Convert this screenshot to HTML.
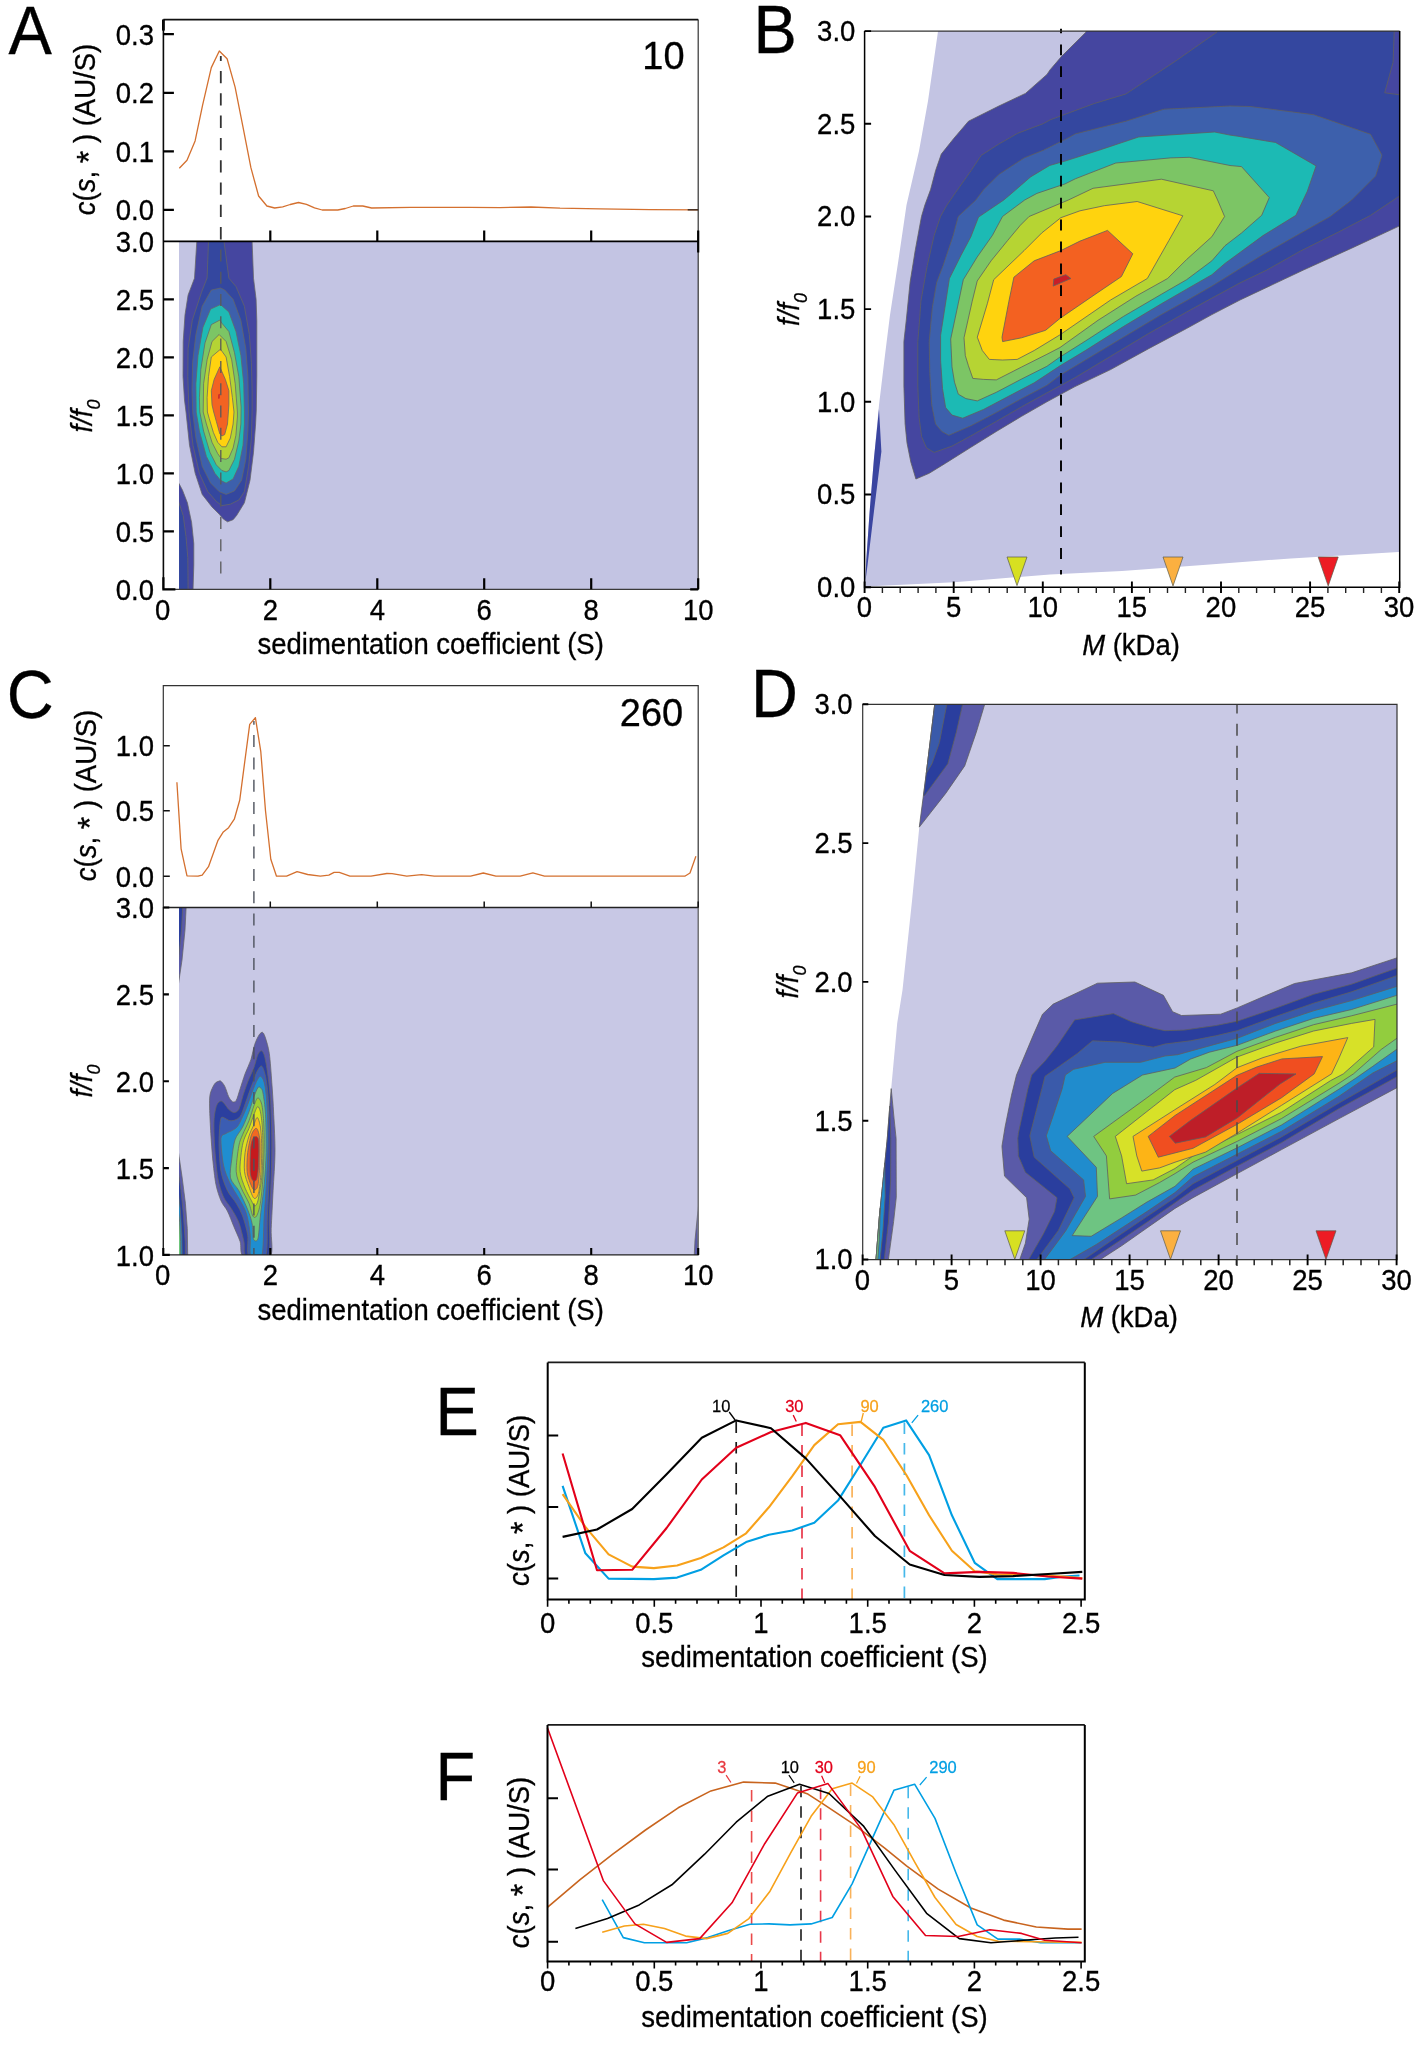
<!DOCTYPE html>
<html><head><meta charset="utf-8"><title>Figure</title>
<style>html,body{margin:0;padding:0;background:#fff}svg{display:block;will-change:transform}text{font-family:"Liberation Sans",sans-serif}</style>
</head><body>
<svg width="1422" height="2046" viewBox="0 0 1422 2046">
<defs>
<clipPath id="clipA"><rect x="179" y="241.4" width="518.6" height="347.9"/></clipPath>
<clipPath id="clipC"><rect x="179" y="907.5" width="518.6" height="347.4"/></clipPath>
<clipPath id="clipB"><rect x="864.6" y="31.1" width="535.1" height="556.1"/></clipPath>
<clipPath id="clipD"><rect x="862.7" y="704.3" width="534.3" height="555.3"/></clipPath>
</defs>
<rect width="1422" height="2046" fill="#fff"/>
<rect x="179" y="241.4" width="519.2" height="347.9" fill="#c3c4e3"/>
<g clip-path="url(#clipA)" stroke="#666666" stroke-width="0.75" stroke-linejoin="round">
<path d="M178 481.7 L182.5 490.2 L187.4 502.8 L191.6 522.5 L193.8 543.6 L193.8 564.7 L193 591 L178 591Z" fill="#4546a0"/>
<path d="M178 500 L183.2 515.5 L186 536.6 L187.8 557.7 L188.1 591 L178 591Z" fill="#34479f"/>
<path d="M196.8 236 L196.8 241.5 L194.5 278.2 L188.1 295 L185 314.8 L183.2 341.5 L183 376.6 L184.5 400 L186 412 L189.5 445.2 L195.2 473.3 L202.2 494.4 L212 507 L219.1 514.1 L223.3 519 L227.5 521.8 L233.1 519.7 L236.6 515.5 L244.4 502.8 L250 480.3 L253.5 452.2 L255.6 424 L256.3 410 L256.8 376.6 L256.8 320.4 L256.1 299.3 L253.5 278.2 L252.1 241.5 L252.1 236Z" fill="#4546a0"/>
<path d="M208.5 236 L208.5 241.5 L207.1 278 L201.5 292.3 L192.3 320.4 L188.1 348.5 L187.8 376.6 L189 412 L193 445.2 L199.4 473.3 L207.8 491.6 L216.3 501.4 L221.9 505.6 L230.3 504.2 L238.8 500 L244.4 491.6 L248.6 466.3 L251.4 438.1 L252.1 410 L252.1 390.7 L251.4 362.6 L249.3 334.5 L244.4 306.3 L236 286.6 L228.9 278.2 L224 241.5 L224 236Z" fill="#34479f"/>
<path d="M220.5 288 L211.3 290.1 L202.2 306.3 L195.9 334.5 L192.6 362.6 L192 390.7 L192.8 413 L195.9 438.1 L202.2 466.3 L210.6 483.1 L219.1 491.6 L226.1 494.4 L234.5 490.9 L241.6 480.3 L245.8 459.2 L247.9 431.1 L248.5 412 L247.9 376.6 L245.8 348.5 L240.9 320.4 L233.1 299.3 L224.7 290Z" fill="#3d60ac"/>
<path d="M220.5 304.6 L210.6 309.1 L202.9 327.4 L198 355.6 L195.9 383.7 L196.2 412 L199.4 431.1 L206.4 456.4 L214.9 473.3 L220.5 480.3 L226.1 483.1 L233.1 478.9 L238.8 466.3 L243 445.2 L244.4 424 L244.4 412 L243.7 383.7 L240.9 355.6 L236 331.6 L228.9 312Z" fill="#1fbab4"/>
<path d="M219.8 320.1 L211.3 324.6 L205 342.9 L200.8 369.6 L199.4 397.7 L199.8 412 L203.6 431.1 L209.9 452.2 L216.3 464.9 L221.9 470.5 L226.1 471.9 L228.9 470.5 L234.5 459.2 L238.8 440.9 L240.9 424 L241.1 407 L238.8 376.6 L234.5 352.7 L228.9 331.6 L221.9 323.2Z" fill="#7cc565"/>
<path d="M219.1 334.5 L212 341.5 L207.1 359.8 L203.6 383.7 L203.2 412 L206.4 424 L212 442.3 L217.7 453.6 L221.2 458.5 L226.1 459.2 L228.9 457.8 L233.1 448 L235.9 435.3 L237.4 417 L237.4 412 L235.2 383.7 L231.7 359.8 L226.1 341.5Z" fill="#b5d334"/>
<path d="M220.5 349.2 L211.3 357 L208.5 376.6 L207.1 397.7 L207.4 412 L209.2 418.4 L213.4 432.5 L217.7 442.3 L221.9 446.8 L226.1 446.8 L230.3 438.1 L233.1 424 L234 412 L232.4 397.7 L229.6 376.6 L226.1 357Z" fill="#ffd20f"/>
<path d="M219.8 366.8 L214.1 379.5 L211.3 390.7 L212 404.8 L213.7 412 L216.3 421.3 L219.8 433.9 L221.9 436 L224.7 434.6 L227.5 424 L228.4 412 L228.9 404.8 L228.9 390.7 L225.4 379.5Z" fill="#f26322"/>
<path d="M218.3 394.5L219.8 393.8L219.6 398.5L218.2 398.8Z" fill="#c4202a" stroke="none"/>
</g>
<path d="M179.3 168.2 L187 160.2 L195.1 140.9 L202.6 105.1 L211.3 67.6 L219.3 51 L227.1 58.8 L235.1 87.1 L243.1 127.7 L250.9 167.7 L258.6 196 L266.9 206 L274.7 208 L282.7 206.8 L290.2 204.5 L298.5 202.5 L306.5 204.3 L314.5 207.8 L322.2 210 L337.8 210 L345.3 208.5 L353.3 206 L362.8 206 L371.6 208 L410.4 207.3 L470 207.4 L500 207.6 L531 207 L560 208.2 L600 208.8 L650 209.6 L698 209.8" fill="none" stroke="#d4702f" stroke-width="1.3" stroke-linejoin="round"/>
<path d="M220.8 56V241.4" fill="none" stroke="#333" stroke-width="1.8" stroke-dasharray="12.3 10" stroke-dashoffset="7.3"/>
<path d="M220.8 241.4V581" fill="none" stroke="#5a5a5a" stroke-width="1.3" stroke-dasharray="12 10.3" stroke-dashoffset="14.3"/>
<path d="M698.2 19.6V589.3" fill="none" stroke="#333" stroke-width="1.2"/>
<path d="M163.4 19.6H698.2" fill="none" stroke="#111" stroke-width="1.6"/>
<path d="M163.4 19.6v11" fill="none" stroke="#000" stroke-width="2.8"/>
<path d="M163.4 19.6V589.3" fill="none" stroke="#0a0a0a" stroke-width="1.6"/>
<path d="M163.4 589.3H698.7" fill="none" stroke="#3a3a3a" stroke-width="1.3"/>
<path d="M163.4 241.4H698.7" fill="none" stroke="#000" stroke-width="1.8"/>
<path d="M163.4 34.2h10.5M163.4 92.8h10.5M163.4 151.3h10.5M163.4 209.8h10.5M163.4 531.3h10.5M163.4 473.3h10.5M163.4 415.3h10.5M163.4 357.3h10.5M163.4 299.3h10.5M270.3 241.4v-11M270.3 589.3v-11M377.3 241.4v-11M377.3 589.3v-11M484.2 241.4v-11M484.2 589.3v-11M591.2 241.4v-11M591.2 589.3v-11M698.2 241.4v-11M698.2 589.3v-11M698.2 241.4v11M163.4 589.3v-12h0v12h12M698.2 589.3h-8" fill="none" stroke="#000" stroke-width="2.2" stroke-linejoin="miter"/>
<path d="M698.2 209.8h-10.5" fill="none" stroke="#3a2a20" stroke-width="1.4"/>
<g font-size="27.5" text-anchor="end">
<text transform="translate(154 44.8) scale(1 1.045)" stroke="#000" stroke-width="0.3">0.3</text>
<text transform="translate(154 103.4) scale(1 1.045)" stroke="#000" stroke-width="0.3">0.2</text>
<text transform="translate(154 161.9) scale(1 1.045)" stroke="#000" stroke-width="0.3">0.1</text>
<text transform="translate(154 220.4) scale(1 1.045)" stroke="#000" stroke-width="0.3">0.0</text>
<text transform="translate(154 599.9) scale(1 1.045)" stroke="#000" stroke-width="0.3">0.0</text>
<text transform="translate(154 541.9) scale(1 1.045)" stroke="#000" stroke-width="0.3">0.5</text>
<text transform="translate(154 483.9) scale(1 1.045)" stroke="#000" stroke-width="0.3">1.0</text>
<text transform="translate(154 425.9) scale(1 1.045)" stroke="#000" stroke-width="0.3">1.5</text>
<text transform="translate(154 367.9) scale(1 1.045)" stroke="#000" stroke-width="0.3">2.0</text>
<text transform="translate(154 309.9) scale(1 1.045)" stroke="#000" stroke-width="0.3">2.5</text>
<text transform="translate(154 251.9) scale(1 1.045)" stroke="#000" stroke-width="0.3">3.0</text>
</g>
<g font-size="27.5" text-anchor="middle">
<text transform="translate(162.7 619.8) scale(1 1.045)" stroke="#000" stroke-width="0.3">0</text>
<text transform="translate(270.3 619.8) scale(1 1.045)" stroke="#000" stroke-width="0.3">2</text>
<text transform="translate(377.3 619.8) scale(1 1.045)" stroke="#000" stroke-width="0.3">4</text>
<text transform="translate(484.2 619.8) scale(1 1.045)" stroke="#000" stroke-width="0.3">6</text>
<text transform="translate(591.2 619.8) scale(1 1.045)" stroke="#000" stroke-width="0.3">8</text>
<text transform="translate(698.2 619.8) scale(1 1.045)" stroke="#000" stroke-width="0.3">10</text>
<text transform="translate(430.7 654.3) scale(1 1.045)" stroke="#000" stroke-width="0.3">sedimentation coefficient (S)</text>
</g>
<text transform="translate(663.5 69) scale(1 1.045)" font-size="38" text-anchor="middle" stroke="#000" stroke-width="0.3">10</text>
<text transform="translate(95.4 129.5) rotate(-90) scale(1 1.045)" font-size="27.5" text-anchor="middle" stroke="#000" stroke-width="0.3"><tspan font-style="italic">c</tspan>(<tspan font-style="italic">s</tspan>, <tspan font-size="32" dy="4.5">*</tspan><tspan dy="-4.5"> ) (AU/S)</tspan></text>
<text transform="translate(91.6 416) rotate(-90) scale(1 1.045)" font-size="27.5" text-anchor="middle" font-style="italic" stroke="#000" stroke-width="0.3">f/f<tspan font-size="18" dy="8.5">0</tspan></text>
<text transform="translate(8.6 53.8) scale(1 1.045)" font-size="65" stroke="#000" stroke-width="0.3">A</text>
<g clip-path="url(#clipB)">
<path d="M938.2 30 L934.4 56.6 L928 101 L919 151 L906.5 205 L898.3 261 L890 315 L885 355 L879 405 L874 458 L869.6 512 L866.3 560 L865.3 586.5 L865.5 586.6 L954.1 582.3 L1050 574.5 L1122 571.1 L1206.4 564.8 L1290.8 558.4 L1398.4 552.1 L1400 552 L1400 30Z" fill="#c3c4e3"/>
<g stroke="#606060" stroke-width="0.8" stroke-linejoin="round">
<path d="M879 409 L881.4 451.5 L874 511 L867.7 563.7 L865.1 584 L866.3 560 L869.6 512 L874 458Z" fill="#3a45a0" stroke="none"/>
<path d="M1086.1 27.5 L1086.1 32 L1061.4 56.6 L1050 69.9 L1047 74.4 L1025.5 93.4 L998.9 106 L968.5 121.2 L953.4 138.9 L941.3 154.1 L935.6 170.6 L930.6 189.6 L924.9 205 L921.5 216.5 L915.2 250.6 L910.1 282.3 L906.3 320 L903.9 341.6 L903.9 385.9 L905.1 423.9 L907 442.9 L910.8 461.9 L915.9 479 L929.2 473.3 L945.6 463.2 L970.9 447.3 L996.3 431.5 L1021.6 416.3 L1046.9 401.8 L1075 386.6 L1110.6 369.6 L1148.6 348.7 L1186.6 328.5 L1211.9 314.6 L1240 300 L1303.5 270 L1351.6 248.2 L1399.1 226.1 L1405 223 L1405 25Z" fill="#4546a0"/>
<path d="M1217.1 27.5 L1217.1 32 L1176.6 60.4 L1125.9 94 L1094.3 103.5 L1050 119.9 L1043.2 123.7 L1017.9 133.2 L998.9 144 L981.2 155.4 L971.1 170.6 L955.9 192.1 L947 205 L940.5 216.5 L934.2 235.4 L927.2 265.8 L920.9 301.3 L919.6 320 L917.8 341.6 L917.8 385.9 L919.1 417.6 L921.6 436.6 L926.6 448 L934.2 452.4 L952 446.1 L970.9 435.9 L996.3 421.4 L1021.6 406.8 L1046.9 392.9 L1075 377.7 L1110.6 356.3 L1148.6 333.5 L1186.6 312 L1211.9 298.1 L1240 282.9 L1266.8 270 L1300.9 250.8 L1338.9 231.8 L1370.6 215.3 L1399.1 196.3 L1405 193 L1405 95.5 L1384.7 92.8 L1393.1 62.2 L1394.2 31.6 L1394.2 22.1Z" fill="#34479f"/>
<path d="M1230 106 L1250.3 106.5 L1313.6 114.7 L1370.6 134.3 L1382 155.2 L1375.6 176.1 L1351.6 200.1 L1330.1 216.6 L1300.9 233 L1263 254.6 L1237.7 270 L1211.9 286.1 L1186.6 300.6 L1161.3 314.6 L1123.3 337.3 L1085.3 360.1 L1060 375.3 L1046.9 385.3 L1021.6 398.6 L996.3 412.5 L970.9 425.8 L948.8 435.3 L941.8 431.5 L935.5 423.9 L931.7 404.9 L929.8 373.3 L929.2 341.6 L932.3 307.6 L936.7 282.3 L943 265.8 L953.2 235.4 L958.2 216.5 L975.9 200 L983.7 189.6 L998.9 174.4 L1024.2 157.9 L1043.2 150.3 L1065 139.6 L1075.3 133.9 L1125.9 121.2 L1163.9 109.2Z" fill="#3d60ac"/>
<path d="M1214.6 132 L1230 135.1 L1237.7 136.2 L1275.6 142.5 L1316.1 165.9 L1307.3 191.3 L1295.9 215.3 L1263 235.6 L1225 263.4 L1211.9 274.7 L1186.6 289.2 L1161.3 303.8 L1123.3 326.6 L1085.3 350.6 L1060 365.8 L1034.2 382.8 L1008.9 396.1 L983.6 409.4 L962.7 418.2 L952 415.1 L945.6 407.5 L942.5 388.5 L940.6 360.6 L940.6 335.3 L944.9 307.6 L949.4 278.5 L960.8 255.7 L970.9 236.7 L978.5 217.1 L1003.8 200 L1011.6 193.4 L1030.6 176.9 L1049.6 165.5 L1065 161.1 L1100.6 149.7 L1138.6 137Z" fill="#1cbab4"/>
<path d="M1189.2 157.3 L1230 165.5 L1241.5 166.6 L1269.3 197.6 L1261.7 215.3 L1241.5 233 L1225 245.7 L1211.9 260.8 L1186.6 279.7 L1161.3 294.3 L1123.3 316.5 L1085.3 341.1 L1060 357 L1046.9 366.3 L1021.6 379 L996.3 392.3 L977.3 400.9 L965.9 398.6 L958.3 394.2 L954.5 382.2 L952 367 L950.7 339.1 L958.2 303.8 L963.3 279.7 L977.2 257 L992.4 235.4 L1002.5 216.5 L1024.7 200 L1036.9 193.4 L1065 183.9 L1075.3 178.8 L1115.8 163 L1170.3 157.9Z" fill="#7cc565"/>
<path d="M1161.4 179.2 L1213.3 190.8 L1217.6 200 L1224.6 216.5 L1211.9 236.7 L1186.6 259.5 L1167.6 278.5 L1135.9 296.2 L1098 320.3 L1060 347.5 L1046.9 354.3 L1021.6 367 L996.3 379.9 L983.6 379.4 L972.8 378.4 L968.4 365.7 L965.3 355.6 L964 337.8 L972.2 301.3 L977.2 281 L991.1 260.8 L1007.6 240.5 L1020.3 225.3 L1029.1 216.5 L1068.4 200 L1093 188.3Z" fill="#b6d433"/>
<path d="M1137.2 201.5 L1182.8 215.8 L1168.9 240.5 L1147.3 278.5 L1110.6 300 L1060 334.8 L1034.2 350.5 L1017.2 359.4 L1002.6 360 L989.3 359.4 L982.3 350.5 L977.3 337.2 L987.3 303.8 L993.7 279.7 L1024.1 250.6 L1041.8 232.9 L1060.8 217.7 L1080 210.8 L1104.3 205.7Z" fill="#ffd30e"/>
<path d="M1107.5 230.4 L1132.8 253.8 L1121.4 276.6 L1098 292.4 L1060 318.4 L1045.6 330.3 L1021.6 337.8 L1002.6 341.6 L1002 337.2 L1008.9 301.3 L1013.9 277.2 L1034.2 260.8 L1060.8 250.6 L1080 241.1Z" fill="#f36121"/>
<path d="M1053.8 279.1 L1065.8 274.7 L1070.9 278.5 L1053.2 286.1Z" fill="#c81e28"/>
</g></g>
<path d="M1061 28.8V574.6" fill="none" stroke="#000" stroke-width="1.9" stroke-dasharray="10.8 11.1" stroke-dashoffset="6.3"/>
<path d="M1007 557H1027L1017 585.6Z" fill="#d7e021" stroke="#5a5a4a" stroke-width="0.7"/>
<path d="M1163 557H1183L1173 585.9Z" fill="#fbb040" stroke="#5a5a4a" stroke-width="0.7"/>
<path d="M1318.2 557H1338.2L1328.2 585.9Z" fill="#ed1c24" stroke="#5a5a4a" stroke-width="0.7"/>
<path d="M864.6 31.1H1399.7" fill="none" stroke="#333" stroke-width="1.1"/>
<path d="M864.6 31.1V587.2H1399.7V31.1" fill="none" stroke="#000" stroke-width="1.5"/>
<path d="M864.6 31.1h6.5M864.6 123.8h6.5M864.6 216.5h6.5M864.6 309.1h6.5M864.6 401.8h6.5M864.6 494.5h6.5M864.6 587.2h6.5M864.6 581.6v11.4M953.7 581.6v11.4M1042.8 581.6v11.4M1131.9 581.6v11.4M1221 581.6v11.4M1310.1 581.6v11.4M1399.2 581.6v11.4" fill="none" stroke="#000" stroke-width="1.9"/>
<path d="M882.4 587.2v5.8M900.2 587.2v5.8M918.1 587.2v5.8M935.9 587.2v5.8M971.5 587.2v5.8M989.3 587.2v5.8M1007.2 587.2v5.8M1025 587.2v5.8M1060.6 587.2v5.8M1078.4 587.2v5.8M1096.3 587.2v5.8M1114.1 587.2v5.8M1149.7 587.2v5.8M1167.5 587.2v5.8M1185.4 587.2v5.8M1203.2 587.2v5.8M1238.8 587.2v5.8M1256.6 587.2v5.8M1274.5 587.2v5.8M1292.3 587.2v5.8M1327.9 587.2v5.8M1345.7 587.2v5.8M1363.6 587.2v5.8M1381.4 587.2v5.8" fill="none" stroke="#222" stroke-width="1.4"/>
<g font-size="27.5" text-anchor="end">
<text transform="translate(855.3 41) scale(1 1.045)" stroke="#000" stroke-width="0.3">3.0</text>
<text transform="translate(855.3 133.7) scale(1 1.045)" stroke="#000" stroke-width="0.3">2.5</text>
<text transform="translate(855.3 226.4) scale(1 1.045)" stroke="#000" stroke-width="0.3">2.0</text>
<text transform="translate(855.3 319) scale(1 1.045)" stroke="#000" stroke-width="0.3">1.5</text>
<text transform="translate(855.3 411.7) scale(1 1.045)" stroke="#000" stroke-width="0.3">1.0</text>
<text transform="translate(855.3 504.4) scale(1 1.045)" stroke="#000" stroke-width="0.3">0.5</text>
<text transform="translate(855.3 597.1) scale(1 1.045)" stroke="#000" stroke-width="0.3">0.0</text>
</g>
<g font-size="27.5" text-anchor="middle">
<text transform="translate(864.5 616.9) scale(1 1.045)" stroke="#000" stroke-width="0.3">0</text>
<text transform="translate(953.6 616.9) scale(1 1.045)" stroke="#000" stroke-width="0.3">5</text>
<text transform="translate(1042.7 616.9) scale(1 1.045)" stroke="#000" stroke-width="0.3">10</text>
<text transform="translate(1131.8 616.9) scale(1 1.045)" stroke="#000" stroke-width="0.3">15</text>
<text transform="translate(1220.9 616.9) scale(1 1.045)" stroke="#000" stroke-width="0.3">20</text>
<text transform="translate(1310 616.9) scale(1 1.045)" stroke="#000" stroke-width="0.3">25</text>
<text transform="translate(1399.1 616.9) scale(1 1.045)" stroke="#000" stroke-width="0.3">30</text>
<text transform="translate(1131 654.5) scale(1 1.045)" stroke="#000" stroke-width="0.3"><tspan font-style="italic">M</tspan> (kDa)</text>
</g>
<text transform="translate(798.5 309.5) rotate(-90) scale(1 1.045)" font-size="27.5" text-anchor="middle" font-style="italic" stroke="#000" stroke-width="0.3">f/f<tspan font-size="18" dy="8.5">0</tspan></text>
<text transform="translate(753.6 53.4) scale(1 1.045)" font-size="65" stroke="#000" stroke-width="0.3">B</text>
<rect x="179" y="907.5" width="519.2" height="347.4000000000001" fill="#c8c8e5"/>
<g clip-path="url(#clipC)" stroke="#666666" stroke-width="0.75" stroke-linejoin="round">
<path d="M178 900 L186.5 900 L185 930 L182 960 L178 987Z" fill="#5a5aa9"/>
<path d="M178 900 L183 900 L181.5 930 L178 965Z" fill="#2b3f9f"/>
<path d="M177.8 1148 L182.2 1177.9 L185.4 1203.3 L187.3 1228.7 L187.7 1256.7 L177.8 1256.7Z" fill="#5a5aa9"/>
<path d="M177.8 1167.7 L181 1190.6 L183.5 1216 L185.2 1241.5 L185.4 1256.7 L177.8 1256.7Z" fill="#2b3f9f"/>
<path d="M177.8 1188.1 L180.3 1209.7 L181.9 1235.1 L182.2 1256.7 L177.8 1256.7Z" fill="#1f8ed0"/>
<path d="M177.8 1203.3 L179.7 1222.4 L180.6 1241.5 L180.7 1256.7 L177.8 1256.7Z" fill="#6dc57b"/>
<path d="M700 1193 L697.5 1215 L695 1240 L694 1260 L700 1260Z" fill="#5a5aa9"/>
<path d="M700 1215 L698 1235 L697 1260 L700 1260Z" fill="#2b3f9f"/>
<path d="M219.1 1081.1C218.1 1081.5 216 1081.9 214.6 1083.9C213.3 1085.8 211 1090.4 210.2 1094C209.4 1097.7 209.5 1102.1 209.6 1108C209.7 1113.9 210.4 1125.8 210.8 1133.4C211.3 1141.1 212 1151.2 212.7 1158.9C213.5 1166.5 214.7 1178 215.9 1184.3C217.2 1190.6 219.3 1196.8 221 1200.8C222.7 1204.8 225.4 1207.1 227.4 1211C229.3 1214.8 231.8 1221.6 233.7 1226.2C235.6 1230.8 238.5 1236.9 240.1 1241.5C241.6 1246 239.4 1254.4 243.9 1256.7C248.4 1259 265.8 1260.9 269.9 1256.7C274 1252.5 270.7 1238.7 271.2 1228.7C271.7 1218.8 272.5 1202.1 273.1 1190.6C273.7 1179.2 274.9 1163.9 275 1152.5C275.1 1141.1 274.2 1124.9 273.7 1114.4C273.3 1103.9 272.5 1091.8 271.8 1082.6C271.2 1073.5 270.2 1060 269.3 1053.4C268.3 1046.7 266.5 1041.3 265.5 1038.1C264.5 1035 263.6 1032.9 262.7 1032.4C261.7 1031.9 260.3 1033.1 259.1 1034.9C257.9 1036.8 255.9 1040.8 254.7 1044.5C253.4 1048.2 252.3 1055.3 250.9 1059.7C249.4 1064.1 246.8 1069.3 245.1 1073.7C243.5 1078.1 241.4 1085 240.1 1089C238.7 1093 237.4 1098.5 236.2 1100.4C235.1 1102.3 233.6 1102.2 232.4 1101.7C231.3 1101.1 229.8 1098.9 228.6 1096.6C227.5 1094.3 226 1088.7 224.8 1086.4C223.7 1084.1 221.9 1082.1 221 1081.3C220.1 1080.5 220 1080.7 219.1 1081.1Z" fill="#5a5aa9"/>
<path d="M221 1101C219.8 1101.2 217.6 1102.5 216.6 1105.5C215.5 1108.4 214.3 1114.6 214 1120.7C213.7 1126.8 214.1 1137.6 214.6 1146.1C215.2 1154.7 216.5 1170.3 217.8 1177.9C219.2 1185.5 221.5 1192.4 223.5 1197C225.5 1201.6 228.9 1204.6 231.2 1208.4C233.5 1212.2 236.9 1217.4 238.8 1222.4C240.7 1227.3 242.7 1236.3 243.9 1241.5C245 1246.6 242.8 1254.4 246.4 1256.7C250 1259 264.6 1262.8 268 1256.7C271.4 1250.6 268.8 1227.9 269.3 1216C269.8 1204.2 270.8 1189.4 271.2 1177.9C271.6 1166.5 271.9 1151.2 271.8 1139.8C271.7 1128.4 271.1 1111.2 270.6 1101.7C270 1092.1 268.9 1082.9 268 1076.2C267.2 1069.6 265.8 1061 264.8 1057.2C263.9 1053.4 262.7 1051.2 261.7 1050.8C260.6 1050.5 259 1052.2 257.9 1054.6C256.7 1057.1 255.4 1063.7 254 1067.4C252.7 1071 250.5 1075 249 1078.8C247.4 1082.6 245.4 1088.2 243.9 1092.8C242.3 1097.3 240.3 1106.3 238.8 1109.3C237.3 1112.2 235.2 1112.5 233.7 1112.5C232.2 1112.5 230 1110.5 228.6 1109.3C227.3 1108.1 226 1105.4 224.8 1104.2C223.7 1103 222.2 1100.8 221 1101Z" fill="#2b3f9f"/>
<path d="M221 1118.2C220.4 1119.6 220 1122.9 219.7 1127.1C219.4 1131.3 218.9 1139.5 219.1 1146.1C219.3 1152.8 219.8 1164.9 221 1171.6C222.2 1178.2 225.1 1185.9 227.4 1190.6C229.6 1195.4 234 1199.5 236.2 1203.3C238.5 1207.1 240.9 1211.3 242.6 1216C244.3 1220.8 246.7 1229 247.7 1235.1C248.6 1241.2 246.3 1253.5 249 1256.7C251.6 1259.9 262.7 1262.8 265.5 1256.7C268.2 1250.6 266.8 1228.8 267.4 1216C268 1203.3 269 1184.9 269.3 1171.6C269.6 1158.2 269.7 1138.5 269.5 1127.1C269.4 1115.6 268.6 1102.9 268 1095.3C267.4 1087.7 266.4 1080.6 265.5 1076.2C264.5 1071.9 262.9 1066.8 261.7 1066.1C260.4 1065.3 258.6 1068.7 257.2 1071.2C255.9 1073.6 254.2 1078.8 252.8 1082.6C251.3 1086.4 249.4 1091.8 247.7 1096.6C246 1101.3 243 1110.9 241.3 1114.4C239.6 1117.8 238 1118.5 236.2 1119.5C234.5 1120.4 231.8 1121 229.9 1120.7C228 1120.4 224.9 1117.9 223.5 1117.5C222.2 1117.2 221.6 1116.8 221 1118.2Z" fill="#3b5db3"/>
<path d="M233.7 1129.6C231.8 1131 228 1132.1 226.1 1133.4C224.2 1134.8 221.4 1133.8 221 1138.5C220.6 1143.3 222.2 1158.5 223.5 1165.2C224.9 1171.9 227.6 1178 229.9 1183C232.2 1188 236.3 1193.7 238.8 1198.2C241.3 1202.8 244.7 1208 246.4 1213.5C248.1 1219 249.6 1228.6 250.2 1235.1C250.9 1241.6 249.1 1253.5 250.9 1256.7C252.6 1259.9 259.7 1262.8 261.7 1256.7C263.7 1250.6 263.4 1227.9 264.2 1216C265 1204.2 266.2 1189.4 266.7 1177.9C267.3 1166.5 268 1151.2 268 1139.8C268 1128.4 267.3 1110.2 266.7 1101.7C266.2 1093.1 265.2 1086.4 264.2 1082.6C263.3 1078.8 261.5 1076.4 260.4 1076.2C259.3 1076.1 257.9 1078.7 256.6 1081.3C255.2 1084 253 1090 251.5 1094C250 1098 248.3 1103.4 246.4 1108C244.5 1112.6 240.7 1121.3 238.8 1124.5C236.9 1127.8 235.6 1128.3 233.7 1129.6Z" fill="#1f8ed0"/>
<path d="M257.9 1087.7C256.9 1089 255.4 1093 254 1096.6C252.7 1100.2 250.7 1107.3 249 1111.8C247.2 1116.4 244.7 1122.9 242.6 1127.1C240.5 1131.3 236.6 1135 235 1139.8C233.4 1144.6 232.5 1153.1 231.8 1158.9C231.1 1164.6 229.5 1173.1 230.5 1177.9C231.6 1182.7 236.2 1185.9 238.8 1190.6C241.4 1195.4 245.7 1204.7 247.7 1209.7C249.7 1214.6 251.3 1219.3 252.1 1223.7C253 1228 252.5 1236.6 253.4 1238.9C254.3 1241.2 256.8 1242.3 257.9 1238.9C258.9 1235.5 259.4 1224.2 260.4 1216C261.3 1207.8 263.3 1193.8 264.2 1184.3C265.1 1174.7 265.9 1163 266.1 1152.5C266.3 1142 266 1123.3 265.5 1114.4C265 1105.4 263.7 1096.8 262.9 1092.8C262.2 1088.8 261.2 1088.4 260.4 1087.7C259.6 1086.9 258.8 1086.4 257.9 1087.7Z" fill="#6dc57b"/>
<path d="M257.9 1097.9C256.7 1098 255.4 1102 254 1105.5C252.7 1108.9 250.7 1116.3 249 1120.7C247.2 1125.1 244.1 1130.9 242.6 1134.7C241.1 1138.5 239.7 1140.6 238.8 1146.1C237.8 1151.7 235.9 1165.3 236.2 1171.6C236.6 1177.8 239.4 1183.3 241.3 1188.1C243.2 1192.8 247.2 1199.1 249 1203.3C250.7 1207.5 251.6 1214.1 252.8 1216C253.9 1217.9 255.4 1217.9 256.6 1216C257.7 1214.1 259.4 1209 260.4 1203.3C261.3 1197.6 262.4 1186.5 262.9 1177.9C263.5 1169.3 264.1 1154.7 264.2 1146.1C264.3 1137.6 264 1127 263.6 1120.7C263.2 1114.4 262.5 1107.6 261.7 1104.2C260.8 1100.8 259 1097.7 257.9 1097.9Z" fill="#9dce32"/>
<path d="M257.6 1106.7C256.6 1107.1 255.3 1111.1 254 1114.4C252.7 1117.6 250.5 1124.5 249 1128.4C247.4 1132.2 245 1136.2 243.9 1139.8C242.7 1143.4 241.9 1147.7 241.3 1152.5C240.8 1157.3 239.5 1166.2 240.1 1171.6C240.6 1176.9 243.4 1183.7 245.1 1188.1C246.9 1192.5 250.1 1198.1 251.5 1200.8C252.9 1203.5 253.7 1205.9 254.7 1205.9C255.6 1205.9 256.8 1205 257.9 1200.8C258.9 1196.6 260.9 1185.2 261.7 1177.9C262.4 1170.7 262.8 1160.1 262.9 1152.5C263 1144.9 262.7 1133.2 262.3 1127.1C261.9 1121 261.1 1114.9 260.4 1111.8C259.7 1108.8 258.6 1106.4 257.6 1106.7Z" fill="#dbe11f"/>
<path d="M257.2 1117.5C256.2 1117.4 254.6 1123 253.4 1125.8C252.2 1128.6 250.2 1132 249 1136C247.7 1140 245.8 1147.2 245.1 1152.5C244.5 1157.8 243.9 1166.4 244.5 1171.6C245.1 1176.7 247.5 1182.8 249 1186.8C250.4 1190.8 252.6 1197.3 254 1198.2C255.5 1199.2 257.4 1197.2 258.5 1193.2C259.5 1189.2 260.6 1178.6 261 1171.6C261.5 1164.5 261.8 1152.8 261.7 1146.1C261.6 1139.5 261.1 1131.4 260.4 1127.1C259.7 1122.8 258.3 1117.7 257.2 1117.5Z" fill="#ffb61b"/>
<path d="M256.6 1128.4C255.3 1127.6 252.8 1131.1 251.5 1134.7C250.2 1138.3 248.4 1147 247.7 1152.5C247 1158 246.7 1167 247.1 1171.6C247.4 1176.1 249.2 1180.2 250.2 1183C251.3 1185.8 252.9 1189.6 254 1190C255.2 1190.4 257 1189.3 257.9 1185.5C258.7 1181.8 259.5 1172.1 259.8 1165.2C260 1158.3 260.2 1145.3 259.8 1139.8C259.3 1134.3 257.8 1129.1 256.6 1128.4Z" fill="#f26822"/>
<path d="M254 1137.2C252.9 1138.2 251.4 1141 250.9 1146.1C250.3 1151.3 249.9 1166.4 250.2 1171.6C250.5 1176.7 251.8 1179.3 252.8 1180.5C253.7 1181.6 255.7 1181.5 256.6 1179.2C257.4 1176.9 258.2 1171.1 258.5 1165.2C258.8 1159.3 259.2 1144 258.5 1139.8C257.8 1135.6 255.2 1136.3 254 1137.2Z" fill="#c51a1e"/>
</g>
<path d="M176.9 782.3 L181.1 848.8 L187 875.8 L198 876.2 L202.2 875.1 L208.5 866.7 L218 840.3 L223.3 831.9 L228.6 827.7 L234.3 819.2 L239.7 800.3 L244.4 764.4 L249.7 724.3 L255.4 717.6 L260.8 751.7 L265.5 810.8 L270.8 859.3 L276.5 876.2 L286.6 876.2 L297.1 871.6 L307.7 874.5 L320.3 876.2 L328.8 875.1 L334.1 872.4 L339.3 872.4 L349.9 876.2 L371 876.2 L386.8 873.5 L392.1 873.7 L406.8 876.2 L421.6 874.7 L434.3 876.2 L432.7 876.2 L470.6 876.2 L483.3 873 L495.9 876.2 L520.2 876.2 L532.9 872.8 L544.5 876.2 L684.8 876.2 L690 873 L695.9 856.2" fill="none" stroke="#d4702f" stroke-width="1.3" stroke-linejoin="round"/>
<path d="M253.9 721V1254" fill="none" stroke="#4d525c" stroke-width="1.4" stroke-dasharray="12 10.3" stroke-dashoffset="8.2"/>
<path d="M163.3 907.5V685.6H698.2V907.5Z" fill="none" stroke="#333" stroke-width="1.2"/>
<path d="M163.3 907.5V1254.9H698.7" fill="none" stroke="#222" stroke-width="1.4"/>
<path d="M163.3 907.5H698.2" fill="none" stroke="#222" stroke-width="1.5"/>
<path d="M698.2 907.5V1254.9" fill="none" stroke="#555" stroke-width="1.2"/>
<path d="M163.3 745.8h6.5M163.3 810.8h6.5M163.3 876.2h6.5M270.3 907.5v-6M377.3 907.5v-6M484.2 907.5v-6M591.2 907.5v-6M698.2 907.5v-6" fill="none" stroke="#111" stroke-width="1.5"/>
<path d="M163.3 1168.1h5.6M163.3 1081.2h5.6M163.3 994.4h5.6M270.3 1254.9v-7M377.3 1254.9v-7M484.2 1254.9v-7M591.2 1254.9v-7M698.2 1254.9v-7M163.3 1254.9v-7h0v7h6.5M163.3 907.5h6" fill="none" stroke="#000" stroke-width="2.1"/>
<g font-size="27.5" text-anchor="end">
<text transform="translate(154 756.4) scale(1 1.045)" stroke="#000" stroke-width="0.3">1.0</text>
<text transform="translate(154 821.4) scale(1 1.045)" stroke="#000" stroke-width="0.3">0.5</text>
<text transform="translate(154 886.8) scale(1 1.045)" stroke="#000" stroke-width="0.3">0.0</text>
<text transform="translate(154 1265.5) scale(1 1.045)" stroke="#000" stroke-width="0.3">1.0</text>
<text transform="translate(154 1178.7) scale(1 1.045)" stroke="#000" stroke-width="0.3">1.5</text>
<text transform="translate(154 1091.8) scale(1 1.045)" stroke="#000" stroke-width="0.3">2.0</text>
<text transform="translate(154 1005) scale(1 1.045)" stroke="#000" stroke-width="0.3">2.5</text>
<text transform="translate(154 918.1) scale(1 1.045)" stroke="#000" stroke-width="0.3">3.0</text>
</g>
<g font-size="27.5" text-anchor="middle">
<text transform="translate(162.7 1285) scale(1 1.045)" stroke="#000" stroke-width="0.3">0</text>
<text transform="translate(270.3 1285) scale(1 1.045)" stroke="#000" stroke-width="0.3">2</text>
<text transform="translate(377.3 1285) scale(1 1.045)" stroke="#000" stroke-width="0.3">4</text>
<text transform="translate(484.2 1285) scale(1 1.045)" stroke="#000" stroke-width="0.3">6</text>
<text transform="translate(591.2 1285) scale(1 1.045)" stroke="#000" stroke-width="0.3">8</text>
<text transform="translate(698.2 1285) scale(1 1.045)" stroke="#000" stroke-width="0.3">10</text>
<text transform="translate(430.7 1319.5) scale(1 1.045)" stroke="#000" stroke-width="0.3">sedimentation coefficient (S)</text>
</g>
<text transform="translate(651.5 726) scale(1 1.045)" font-size="38" text-anchor="middle" stroke="#000" stroke-width="0.3">260</text>
<text transform="translate(95.9 795.5) rotate(-90) scale(1 1.045)" font-size="27.5" text-anchor="middle" stroke="#000" stroke-width="0.3"><tspan font-style="italic">c</tspan>(<tspan font-style="italic">s</tspan>, <tspan font-size="32" dy="4.5">*</tspan><tspan dy="-4.5"> ) (AU/S)</tspan></text>
<text transform="translate(91.6 1081) rotate(-90) scale(1 1.045)" font-size="27.5" text-anchor="middle" font-style="italic" stroke="#000" stroke-width="0.3">f/f<tspan font-size="18" dy="8.5">0</tspan></text>
<text transform="translate(6.7 718.2) scale(1 1.045)" font-size="65" stroke="#000" stroke-width="0.3">C</text>
<g clip-path="url(#clipD)">
<path d="M935.2 700.5 L926.7 770.2 L919.3 827.1 L912 901 L902.5 990 L897.2 1023.3 L891.2 1088.6 L894.1 1118.9 L896.1 1138.5 L896.3 1197.1 L893.6 1221.6 L887.5 1266 L1400 1265 L1400 700Z" fill="#c9c9e5"/>
<g stroke="#606060" stroke-width="0.8" stroke-linejoin="round">
<path d="M935.2 700.5 L985.2 700.5 L984.7 704.3 L976.3 732.2 L964.7 765.9 L945.7 793.4 L919.3 827.1 L926.7 770.2Z" fill="#5a5aa8"/>
<path d="M935.2 700.5 L963 700.5 L962.6 704.3 L956.3 732.2 L947.8 763.8 L924.6 795.5 L923.6 795.5 L926.7 770.2Z" fill="#2a3e9e"/>
<path d="M935.2 700.5 L947.2 700.5 L946.8 704.3 L939.4 742.7 L932 763.8 L926.3 773.3 L928.8 753.3Z" fill="#3a5aaa"/>
<path d="M891.2 1088.6 L894.1 1118.9 L896.1 1138.5 L896.3 1197.1 L893.6 1221.6 L887.5 1266 L875.5 1266 L879.4 1216.7 L883.4 1177.6 L887.3 1138.5Z" fill="#5a5aa8"/>
<path d="M889.8 1106 L890.8 1138.5 L890.6 1180 L888.5 1221 L883.5 1266 L875.5 1266 L879.4 1216.7 L883.4 1177.6 L887.3 1138.5Z" fill="#2a3e9e"/>
<path d="M884.8 1163 L885.2 1196 L883 1230 L879.5 1266 L875.5 1266 L879.4 1216.7 L883.4 1177.6Z" fill="#208ccd"/>
<path d="M880.3 1208 L879.3 1240 L877.3 1266 L875.5 1266 L879.4 1216.7Z" fill="#6ec482"/>
<path d="M1403 956 L1395.9 958.2 L1351.6 972.8 L1294.6 983.5 L1263 996.8 L1237.2 1007.9 L1220.7 1014.2 L1181.5 1015.5 L1172.6 1011.7 L1163.4 995.3 L1134.9 982 L1097.5 983.2 L1053.2 1004.1 L1042.5 1014.2 L1033 1035.8 L1016.5 1075 L1011.5 1095.3 L1005.1 1126.9 L1002 1145.9 L1002 1147 L1004.5 1176.1 L1026.6 1197.7 L1029.2 1219.2 L1025.4 1243.2 L1019.7 1259.7 L1019.1 1264.7 L1100.7 1264.7 L1100.1 1259.7 L1121.6 1245.8 L1146.9 1228 L1175 1208.4 L1193 1197.7 L1237.3 1173.6 L1281.6 1149.6 L1339.1 1118.6 L1396 1088.2 L1403 1084.5Z" fill="#5a5aa8"/>
<path d="M1403 965 L1395.9 968.4 L1351.6 984.2 L1313.6 994.3 L1275.6 1008.2 L1237.2 1021.2 L1215.6 1025.6 L1184 1030.1 L1165 1030.7 L1153.2 1028.2 L1131.7 1021.8 L1113.4 1013.6 L1074.7 1019.9 L1057 1045.9 L1045 1061.1 L1031.7 1075 L1027.9 1088.9 L1018.4 1133.2 L1017.8 1138.2 L1018.4 1155.9 L1025.4 1172.3 L1057 1197.7 L1054.5 1211.6 L1043.1 1234.4 L1028.5 1259.7 L1027.9 1264.7 L1091.8 1264.7 L1091.2 1259.7 L1121.6 1239.4 L1146.9 1222.3 L1175 1202.7 L1193 1190.1 L1237.3 1166 L1281.6 1142.6 L1339.1 1108.5 L1396 1077.3 L1403 1073.5Z" fill="#2a3e9e"/>
<path d="M1403 973 L1395.9 975.9 L1351.6 991.8 L1313.6 1003.2 L1275.6 1016.5 L1237.2 1030.7 L1215.6 1035.8 L1190.3 1040.8 L1165 1044 L1153.2 1047.2 L1121.6 1042.1 L1092.5 1040.8 L1077.3 1053.5 L1055.8 1068.7 L1045 1076.3 L1041.8 1088.9 L1029.8 1135.8 L1034.2 1157.2 L1069.7 1188.8 L1074.1 1197.7 L1058.3 1230.6 L1036.8 1259.7 L1036.1 1264.7 L1084.2 1264.7 L1083.6 1259.7 L1121.6 1233.7 L1146.9 1216.6 L1175 1197.7 L1193 1183.7 L1237.3 1160.3 L1281.6 1136.9 L1339.1 1103 L1396 1070.5 L1403 1066.5Z" fill="#3a5aaa"/>
<path d="M1403 984 L1395.9 986.7 L1351.6 1000.6 L1313.6 1010.8 L1275.6 1023.4 L1237.2 1038.3 L1209.3 1045.9 L1177.7 1054.7 L1165 1056 L1140.6 1062.3 L1105.1 1062.3 L1073.5 1069.3 L1065.3 1075 L1062.1 1088.9 L1054.5 1111.7 L1046.3 1135.8 L1050.7 1150.8 L1083.6 1179.9 L1085.5 1196.4 L1065.9 1230.6 L1044.4 1259.7 L1043.7 1264.7 L1070.3 1264.7 L1069.7 1259.7 L1096.3 1244.5 L1121.6 1228 L1146.9 1211.6 L1175 1192.6 L1193 1176.8 L1237.3 1154 L1281.6 1131.2 L1339.1 1096.2 L1372.8 1073 L1396 1061.2 L1403 1057Z" fill="#208ccd"/>
<path d="M1403 993 L1395.9 995.6 L1351.6 1009.5 L1313.6 1018.4 L1275.6 1031 L1237.2 1045.3 L1209.3 1052.2 L1190.3 1059.2 L1175.1 1068 L1142.5 1075 L1112.7 1093.4 L1067.2 1136.4 L1096.3 1167.3 L1097.5 1196.4 L1072.2 1235.6 L1091.2 1236.3 L1121.6 1217.9 L1146.9 1202.1 L1175 1186.3 L1193 1169.2 L1237.3 1147.7 L1281.6 1124.9 L1339.1 1089.1 L1355.9 1078.1 L1372.8 1066.3 L1396 1049.8 L1403 1045.5Z" fill="#6ec482"/>
<path d="M1403 1002 L1395.9 1004.4 L1351.6 1015.8 L1313.6 1024.7 L1275.6 1037.3 L1237 1051.3 L1206.4 1067.6 L1174.7 1077.1 L1146.9 1097.8 L1093.7 1136.4 L1106.4 1155.9 L1109.6 1198.9 L1135.5 1195.1 L1159.6 1182.5 L1175 1173.6 L1193 1162.2 L1237.3 1141.3 L1281.6 1118.5 L1339.1 1083.2 L1353.4 1073.9 L1381.3 1049.4 L1396 1038.9 L1403 1034Z" fill="#92cd3e"/>
<path d="M1375 1019.4 L1351.6 1023.4 L1313.6 1031 L1275.6 1043 L1237 1057 L1195.8 1080.3 L1174.7 1089.7 L1153.2 1106.6 L1115.3 1136.4 L1121.6 1155.9 L1126.6 1183.7 L1153.2 1179.9 L1175 1168.5 L1193 1155.9 L1237.3 1134.4 L1281.6 1112.2 L1330.6 1080.6 L1343.3 1073.9 L1373.7 1046.9Z" fill="#d7e128"/>
<path d="M1347.8 1037.6 L1300.9 1046.2 L1263 1057.6 L1237 1067.7 L1214.8 1084.5 L1174.7 1109.8 L1133 1136.4 L1136.8 1155.9 L1141.8 1171.1 L1159.6 1167.9 L1175 1162.2 L1205.6 1152.1 L1237.3 1133.1 L1281.6 1105.3 L1331.5 1073.9 L1339.1 1057.8Z" fill="#fdb416"/>
<path d="M1322.5 1056.6 L1282 1058.9 L1256.6 1067.1 L1237 1075.3 L1175 1115.5 L1148.2 1136.4 L1158.3 1157.2 L1193 1148.3 L1237.3 1124.2 L1281.6 1097.7 L1314.2 1073.9Z" fill="#f04e20"/>
<path d="M1259.2 1073.4 L1237 1088 L1190.3 1120.6 L1169.4 1136.4 L1175.3 1143.2 L1205.6 1136.9 L1237.3 1117.9 L1280 1084 L1296 1073.9Z" fill="#be1e28"/>
</g></g>
<path d="M1237 704V1266" fill="none" stroke="#4a4a4a" stroke-width="1.5" stroke-dasharray="12 10.15" stroke-dashoffset="2.5"/>
<path d="M1004.8 1230.8H1024.8L1014.8 1259.4Z" fill="#d7e021" stroke="#5a5a4a" stroke-width="0.7"/>
<path d="M1160.5 1230.8H1180.5L1170.5 1259.4Z" fill="#fbb040" stroke="#5a5a4a" stroke-width="0.7"/>
<path d="M1316 1230.8H1336L1326 1259.4Z" fill="#ed1c24" stroke="#5a5a4a" stroke-width="0.7"/>
<path d="M862.7 1259.6V704.3H1397.0V1259.6Z" fill="none" stroke="#333" stroke-width="1.2"/>
<path d="M862.7 704.3h5.6M862.7 843.1h5.6M862.7 981.9h5.6M862.7 1120.7h5.6M862.7 1259.5h5.6M862.6 1254.4v10.8M951.6 1254.4v10.8M1040.6 1254.4v10.8M1129.6 1254.4v10.8M1218.6 1254.4v10.8M1307.6 1254.4v10.8M1396.6 1254.4v10.8" fill="none" stroke="#000" stroke-width="1.9"/>
<path d="M880.4 1259.6v5.6M898.2 1259.6v5.6M916 1259.6v5.6M933.8 1259.6v5.6M969.4 1259.6v5.6M987.2 1259.6v5.6M1005 1259.6v5.6M1022.8 1259.6v5.6M1058.4 1259.6v5.6M1076.2 1259.6v5.6M1094 1259.6v5.6M1111.8 1259.6v5.6M1147.4 1259.6v5.6M1165.2 1259.6v5.6M1183 1259.6v5.6M1200.8 1259.6v5.6M1236.4 1259.6v5.6M1254.2 1259.6v5.6M1272 1259.6v5.6M1289.8 1259.6v5.6M1325.4 1259.6v5.6M1343.2 1259.6v5.6M1361 1259.6v5.6M1378.8 1259.6v5.6" fill="none" stroke="#222" stroke-width="1.5"/>
<g font-size="27.5" text-anchor="end">
<text transform="translate(852.6 714.2) scale(1 1.045)" stroke="#000" stroke-width="0.3">3.0</text>
<text transform="translate(852.6 853) scale(1 1.045)" stroke="#000" stroke-width="0.3">2.5</text>
<text transform="translate(852.6 991.8) scale(1 1.045)" stroke="#000" stroke-width="0.3">2.0</text>
<text transform="translate(852.6 1130.6) scale(1 1.045)" stroke="#000" stroke-width="0.3">1.5</text>
<text transform="translate(852.6 1269.4) scale(1 1.045)" stroke="#000" stroke-width="0.3">1.0</text>
</g>
<g font-size="27.5" text-anchor="middle">
<text transform="translate(862.5 1289.5) scale(1 1.045)" stroke="#000" stroke-width="0.3">0</text>
<text transform="translate(951.5 1289.5) scale(1 1.045)" stroke="#000" stroke-width="0.3">5</text>
<text transform="translate(1040.5 1289.5) scale(1 1.045)" stroke="#000" stroke-width="0.3">10</text>
<text transform="translate(1129.5 1289.5) scale(1 1.045)" stroke="#000" stroke-width="0.3">15</text>
<text transform="translate(1218.5 1289.5) scale(1 1.045)" stroke="#000" stroke-width="0.3">20</text>
<text transform="translate(1307.5 1289.5) scale(1 1.045)" stroke="#000" stroke-width="0.3">25</text>
<text transform="translate(1396.5 1289.5) scale(1 1.045)" stroke="#000" stroke-width="0.3">30</text>
<text transform="translate(1129 1326.5) scale(1 1.045)" stroke="#000" stroke-width="0.3"><tspan font-style="italic">M</tspan> (kDa)</text>
</g>
<text transform="translate(797.5 982) rotate(-90) scale(1 1.045)" font-size="27.5" text-anchor="middle" font-style="italic" stroke="#000" stroke-width="0.3">f/f<tspan font-size="18" dy="8.5">0</tspan></text>
<text transform="translate(751.1 717) scale(1 1.045)" font-size="65" stroke="#000" stroke-width="0.3">D</text>
<path d="M736.2 1421.5V1599.6" fill="none" stroke="#1a1a1a" stroke-width="1.7" stroke-dasharray="11.5 9"/>
<path d="M802.0 1424.6V1599.6" fill="none" stroke="#e8384a" stroke-width="1.7" stroke-dasharray="11.5 9"/>
<path d="M852.1 1424.6V1599.6" fill="none" stroke="#f9b25a" stroke-width="1.7" stroke-dasharray="11.5 9"/>
<path d="M904.4 1422.5V1599.6" fill="none" stroke="#45b8ea" stroke-width="1.7" stroke-dasharray="11.5 9"/>
<path d="M562.6 1485.8 L585.4 1553.3 L608.6 1578.6 L653.9 1579.1 L677.1 1577.6 L700.8 1569.8 L723.5 1555.4 L746.1 1542.1 L768.9 1534.7 L792.1 1530.5 L814.3 1522.7 L838 1500.6 L860.5 1464.7 L883.3 1427.8 L906.1 1420.4 L929.1 1455.2 L951.9 1515.3 L974.7 1562.8 L997.3 1579.1 L1044.7 1579.1 L1063.7 1576.5 L1079.5 1575.5" fill="none" stroke="#009fe3" stroke-width="2.1" stroke-linejoin="round"/>
<path d="M562.6 1494.2 L585.4 1526.9 L608.6 1554.4 L632.2 1566.6 L653.9 1568.1 L677.1 1565.5 L700.8 1558 L723.5 1547.4 L746.1 1533.3 L768.9 1507.3 L792.1 1476.3 L814.3 1445.1 L838 1424.2 L860.5 1421.9 L883.3 1439.8 L906.5 1475.3 L929.1 1515.3 L951.9 1550.8 L974.7 1571.2 L997.3 1574.4 L1032.1 1575 L1063.7 1576.5 L1082.3 1578.2" fill="none" stroke="#f7a11a" stroke-width="2.1" stroke-linejoin="round"/>
<path d="M562.6 1453.5 L597 1570.2 L632.2 1569.8 L666.6 1528 L701.8 1479.5 L736.2 1447.8 L771 1432 L805.8 1422.9 L840.1 1435.2 L874.9 1486.9 L909.7 1550.8 L944.5 1573.4 L979.3 1571.9 L1013.1 1572.9 L1047.9 1576.5 L1082.3 1578.6" fill="none" stroke="#e2001a" stroke-width="2.1" stroke-linejoin="round"/>
<path d="M562.6 1536.9 L597 1529.5 L632.2 1509 L666.6 1474.2 L701.8 1437.7 L736.2 1420.4 L771 1428.2 L805.8 1458.4 L840.1 1496.4 L874.9 1536 L909.7 1564.5 L944.5 1575 L979.3 1576.9 L1013.1 1576.1 L1047.9 1574 L1082.3 1571.9" fill="none" stroke="#000" stroke-width="2.1" stroke-linejoin="round"/>
<text transform="translate(721.2 1411.6) scale(1 1.045)" font-size="16.5" fill="#000" text-anchor="middle" stroke="#000" stroke-width="0.25">10</text>
<text transform="translate(794.3 1411.6) scale(1 1.045)" font-size="16.5" fill="#e2001a" text-anchor="middle" stroke="#e2001a" stroke-width="0.25">30</text>
<text transform="translate(869.6 1411.6) scale(1 1.045)" font-size="16.5" fill="#f7a11a" text-anchor="middle" stroke="#f7a11a" stroke-width="0.25">90</text>
<text transform="translate(934.7 1411.6) scale(1 1.045)" font-size="16.5" fill="#009fe3" text-anchor="middle" stroke="#009fe3" stroke-width="0.25">260</text>
<path d="M729.2 1412 L735.1 1420" stroke="#000" stroke-width="1.3" fill="none"/>
<path d="M793.2 1415.1 L796.3 1421.5" stroke="#e2001a" stroke-width="1.3" fill="none"/>
<path d="M863.3 1413 L861.2 1421.5" stroke="#f7a11a" stroke-width="1.3" fill="none"/>
<path d="M918.1 1415.1 L911.8 1422.9" stroke="#009fe3" stroke-width="1.3" fill="none"/>
<path d="M547.7 1362.4H1084.8" fill="none" stroke="#1a1a1a" stroke-width="1.7"/>
<path d="M547.7 1362.4V1599.6H1084.8V1362.4" fill="none" stroke="#000" stroke-width="2"/>
<path d="M547.7 1435.6h10.5M547.7 1506.9h10.5M547.7 1578.6h10.5" fill="none" stroke="#000" stroke-width="2"/>
<path d="M547.6 1599.6v7.2M568.9 1599.6v4.2M590.3 1599.6v4.2M611.6 1599.6v4.2M633 1599.6v4.2M654.3 1599.6v7.2M675.6 1599.6v4.2M697 1599.6v4.2M718.3 1599.6v4.2M739.7 1599.6v4.2M761 1599.6v7.2M782.3 1599.6v4.2M803.7 1599.6v4.2M825 1599.6v4.2M846.4 1599.6v4.2M867.7 1599.6v7.2M889 1599.6v4.2M910.4 1599.6v4.2M931.7 1599.6v4.2M953.1 1599.6v4.2M974.4 1599.6v7.2M995.7 1599.6v4.2M1017.1 1599.6v4.2M1038.4 1599.6v4.2M1059.8 1599.6v4.2M1081.1 1599.6v7.2" fill="none" stroke="#000" stroke-width="1.6"/>
<g font-size="27.5" text-anchor="middle">
<text transform="translate(547.6 1632.6) scale(1 1.045)" stroke="#000" stroke-width="0.3">0</text>
<text transform="translate(654.3 1632.6) scale(1 1.045)" stroke="#000" stroke-width="0.3">0.5</text>
<text transform="translate(761 1632.6) scale(1 1.045)" stroke="#000" stroke-width="0.3">1</text>
<text transform="translate(867.7 1632.6) scale(1 1.045)" stroke="#000" stroke-width="0.3">1.5</text>
<text transform="translate(974.4 1632.6) scale(1 1.045)" stroke="#000" stroke-width="0.3">2</text>
<text transform="translate(1081.1 1632.6) scale(1 1.045)" stroke="#000" stroke-width="0.3">2.5</text>
<text transform="translate(814.5 1666.6) scale(1 1.045)" stroke="#000" stroke-width="0.3">sedimentation coefficient (S)</text>
</g>
<text transform="translate(529 1500.4) rotate(-90) scale(1 1.045)" font-size="27.5" text-anchor="middle" stroke="#000" stroke-width="0.3"><tspan font-style="italic">c</tspan>(<tspan font-style="italic">s</tspan>, <tspan font-size="32" dy="4.5">*</tspan><tspan dy="-4.5"> ) (AU/S)</tspan></text>
<text transform="translate(435.4 1434.7) scale(1 1.045)" font-size="65" stroke="#000" stroke-width="0.3">E</text>
<path d="M751.6 1790V1961.4" fill="none" stroke="#ea4a4a" stroke-width="1.6" stroke-dasharray="11.5 9"/>
<path d="M801.0 1785.7V1961.4" fill="none" stroke="#1a1a1a" stroke-width="1.6" stroke-dasharray="11.5 9"/>
<path d="M820.6 1787.8V1961.4" fill="none" stroke="#e8384a" stroke-width="1.6" stroke-dasharray="11.5 9"/>
<path d="M850.6 1784.6V1961.4" fill="none" stroke="#f9b25a" stroke-width="1.6" stroke-dasharray="11.5 9"/>
<path d="M908.2 1786.7V1961.4" fill="none" stroke="#45b8ea" stroke-width="1.6" stroke-dasharray="11.5 9"/>
<path d="M547.4 1907.4 L580.1 1879.6 L612.8 1854.2 L645.5 1830 L678.2 1807.8 L710.9 1790.9 L743.6 1782.1 L775.2 1783.1 L807.9 1794.1 L821.1 1802.6 L852.7 1823.6 L884.4 1847.9 L906.5 1865.8 L938.2 1889.1 L970.9 1908 L1003.6 1920.1 L1036.3 1927 L1067.9 1929.1 L1081.6 1929.1" fill="none" stroke="#c8641e" stroke-width="1.6" stroke-linejoin="round"/>
<path d="M602.2 1899.6 L623.3 1937.6 L644.4 1942.8 L686.6 1942.8 L707.7 1937.6 L728.8 1930.6 L749.9 1924.3 L768.9 1923.9 L790 1924.9 L811.1 1923.9 L832.2 1917.5 L852.1 1883.8 L872.8 1837.4 L893.9 1790.3 L914.6 1784.2 L935 1818.4 L956.1 1873.2 L977.2 1924.9 L997.9 1939.1 L1019.4 1939.1 L1040.5 1942.8 L1081.6 1942.8" fill="none" stroke="#009fe3" stroke-width="1.6" stroke-linejoin="round"/>
<path d="M602.2 1932.3 L624.4 1926 L643.4 1924.3 L664.5 1928.5 L685.6 1936.1 L706.7 1938.6 L727.8 1933.4 L748.9 1918.6 L770 1891.2 L791.1 1852.1 L811.1 1816.3 L832.2 1788.8 L852.1 1783.1 L872.8 1796.9 L893.9 1824.7 L915 1862.7 L935 1897.5 L956.1 1924.5 L977.2 1936.5 L998.3 1941.2 L1032.1 1941.8 L1081.6 1942.4" fill="none" stroke="#f7a11a" stroke-width="1.6" stroke-linejoin="round"/>
<path d="M575.4 1928.5 L607.5 1918.6 L639.2 1904.9 L671.9 1884.8 L704.6 1854.2 L736.2 1822.2 L767.8 1796.2 L799.5 1784.2 L829 1793.5 L863.3 1825.8 L894.9 1870.1 L926.6 1913.3 L959.3 1938.6 L990.9 1942.8 L1023.6 1940.3 L1055.3 1938 L1078.5 1937.2" fill="none" stroke="#000" stroke-width="1.6" stroke-linejoin="round"/>
<path d="M547.4 1727.7 L603.3 1880.6 L634.9 1923.9 L666.6 1942.4 L699.7 1938.6 L732 1902.8 L764.7 1843.7 L797.4 1793.1 L828 1783.6 L861.2 1828.9 L892.8 1896.4 L925.5 1935.5 L958.2 1936.5 L989.9 1929.8 L1021.5 1933.4 L1044.7 1940.3 L1081.6 1942.8" fill="none" stroke="#e2001a" stroke-width="1.6" stroke-linejoin="round"/>
<text transform="translate(721.8 1773.3) scale(1 1.045)" font-size="16.5" fill="#e8383f" text-anchor="middle" stroke="#e8383f" stroke-width="0.25">3</text>
<text transform="translate(789.8 1773.3) scale(1 1.045)" font-size="16.5" fill="#000" text-anchor="middle" stroke="#000" stroke-width="0.25">10</text>
<text transform="translate(823.8 1773.3) scale(1 1.045)" font-size="16.5" fill="#e2001a" text-anchor="middle" stroke="#e2001a" stroke-width="0.25">30</text>
<text transform="translate(866.5 1773.3) scale(1 1.045)" font-size="16.5" fill="#f7a11a" text-anchor="middle" stroke="#f7a11a" stroke-width="0.25">90</text>
<text transform="translate(943 1773.3) scale(1 1.045)" font-size="16.5" fill="#009fe3" text-anchor="middle" stroke="#009fe3" stroke-width="0.25">290</text>
<path d="M726.1 1775.1 L730.9 1782.5" stroke="#e8383f" stroke-width="1.2" fill="none"/>
<path d="M788.9 1775.1 L794.2 1782.9" stroke="#000" stroke-width="1.2" fill="none"/>
<path d="M821.6 1775.8 L824.8 1782.9" stroke="#e2001a" stroke-width="1.2" fill="none"/>
<path d="M860.1 1776.2 L856.5 1783.6" stroke="#f7a11a" stroke-width="1.2" fill="none"/>
<path d="M926.6 1777.2 L919.8 1785" stroke="#009fe3" stroke-width="1.2" fill="none"/>
<path d="M547.5 1724.9H1084.8" fill="none" stroke="#1a1a1a" stroke-width="1.7"/>
<path d="M547.5 1724.9V1961.4H1084.8V1724.9" fill="none" stroke="#000" stroke-width="2"/>
<path d="M547.5 1798.3h10.5M547.5 1869.6h10.5M547.5 1941.8h10.5" fill="none" stroke="#000" stroke-width="2"/>
<path d="M547.6 1961.4v7.2M568.9 1961.4v4.2M590.3 1961.4v4.2M611.6 1961.4v4.2M633 1961.4v4.2M654.3 1961.4v7.2M675.6 1961.4v4.2M697 1961.4v4.2M718.3 1961.4v4.2M739.7 1961.4v4.2M761 1961.4v7.2M782.3 1961.4v4.2M803.7 1961.4v4.2M825 1961.4v4.2M846.4 1961.4v4.2M867.7 1961.4v7.2M889 1961.4v4.2M910.4 1961.4v4.2M931.7 1961.4v4.2M953.1 1961.4v4.2M974.4 1961.4v7.2M995.7 1961.4v4.2M1017.1 1961.4v4.2M1038.4 1961.4v4.2M1059.8 1961.4v4.2M1081.1 1961.4v7.2" fill="none" stroke="#000" stroke-width="1.6"/>
<g font-size="27.5" text-anchor="middle">
<text transform="translate(547.6 1990.9) scale(1 1.045)" stroke="#000" stroke-width="0.3">0</text>
<text transform="translate(654.3 1990.9) scale(1 1.045)" stroke="#000" stroke-width="0.3">0.5</text>
<text transform="translate(761 1990.9) scale(1 1.045)" stroke="#000" stroke-width="0.3">1</text>
<text transform="translate(867.7 1990.9) scale(1 1.045)" stroke="#000" stroke-width="0.3">1.5</text>
<text transform="translate(974.4 1990.9) scale(1 1.045)" stroke="#000" stroke-width="0.3">2</text>
<text transform="translate(1081.1 1990.9) scale(1 1.045)" stroke="#000" stroke-width="0.3">2.5</text>
<text transform="translate(814.5 2026.9) scale(1 1.045)" stroke="#000" stroke-width="0.3">sedimentation coefficient (S)</text>
</g>
<text transform="translate(529 1862.5) rotate(-90) scale(1 1.045)" font-size="27.5" text-anchor="middle" stroke="#000" stroke-width="0.3"><tspan font-style="italic">c</tspan>(<tspan font-style="italic">s</tspan>, <tspan font-size="32" dy="4.5">*</tspan><tspan dy="-4.5"> ) (AU/S)</tspan></text>
<text transform="translate(435.4 1799.5) scale(1 1.045)" font-size="65" stroke="#000" stroke-width="0.3">F</text>
</svg>
</body></html>
